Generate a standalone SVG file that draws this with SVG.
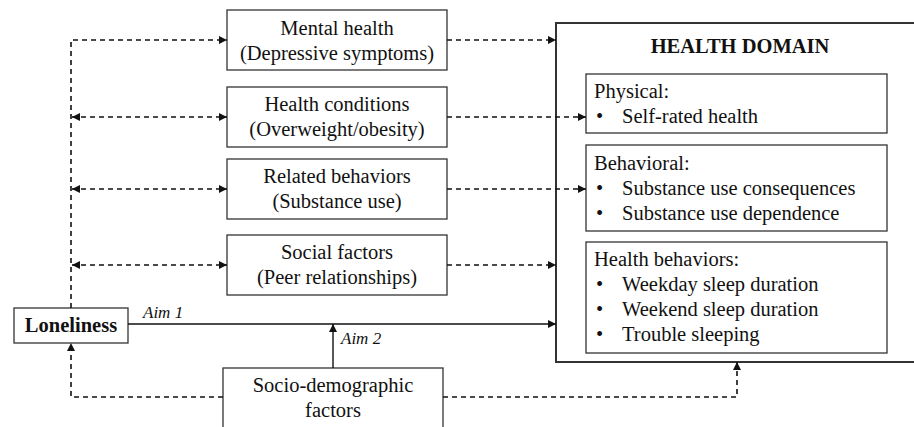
<svg xmlns="http://www.w3.org/2000/svg" width="914" height="427" viewBox="0 0 914 427">
<style>
text{font-family:"Liberation Serif","Times New Roman",serif;font-size:20.5px;fill:#111}
.c{text-anchor:middle}
.b{font-weight:bold}
.i{font-style:italic;font-size:17px}
.box{fill:#fff;stroke:#333;stroke-width:1.3}
.big{fill:#fff;stroke:#333;stroke-width:2}
.d{fill:none;stroke:#111;stroke-width:1.6;stroke-dasharray:5 4}
.s{fill:none;stroke:#111;stroke-width:1.4}
</style>
<defs>
<marker id="ah" viewBox="0 0 10 10" refX="10" refY="5" markerWidth="8" markerHeight="8" markerUnits="userSpaceOnUse" orient="auto-start-reverse">
<path d="M0,0 L10,5 L0,10 z" fill="#111"/>
</marker>
</defs>
<g id="mental">
<rect class="box" x="227" y="10" width="220" height="60"/>
<text class="c" x="337" y="35">Mental health</text>
<text class="c" x="337" y="60">(Depressive symptoms)</text>
</g>
<g id="conditions">
<rect class="box" x="227" y="87" width="220" height="60"/>
<text class="c" x="337" y="111">Health conditions</text>
<text class="c" x="337" y="136">(Overweight/obesity)</text>
</g>
<g id="related">
<rect class="box" x="227" y="159" width="220" height="60"/>
<text class="c" x="337" y="183">Related behaviors</text>
<text class="c" x="337" y="208">(Substance use)</text>
</g>
<g id="social">
<rect class="box" x="227" y="235" width="220" height="60"/>
<text class="c" x="337" y="259">Social factors</text>
<text class="c" x="337" y="284">(Peer relationships)</text>
</g>
<g id="loneliness">
<rect class="box" x="14" y="308" width="114" height="35"/>
<text class="c b" x="71" y="332">Loneliness</text>
</g>
<g id="sociodemo">
<rect class="box" x="223" y="368" width="220" height="70"/>
<text class="c" x="333" y="392">Socio-demographic</text>
<text class="c" x="333" y="417">factors</text>
</g>
<g id="health-domain">
<rect class="big" x="556" y="23" width="370" height="339"/>
<text class="c b" x="740" y="53">HEALTH DOMAIN</text>
<g id="physical">
<rect class="box" x="586" y="74" width="301" height="59"/>
<text x="594" y="98">Physical:</text>
<text x="596" y="123">•</text>
<text x="622" y="123">Self-rated health</text>
</g>
<g id="behavioral">
<rect class="box" x="586" y="145" width="301" height="86"/>
<text x="594" y="170">Behavioral:</text>
<text x="596" y="195">•</text>
<text x="622" y="195">Substance use consequences</text>
<text x="596" y="220">•</text>
<text x="622" y="220">Substance use dependence</text>
</g>
<g id="health-behaviors">
<rect class="box" x="586" y="242" width="301" height="111"/>
<text x="594" y="266">Health behaviors:</text>
<text x="596" y="291">•</text>
<text x="622" y="291">Weekday sleep duration</text>
<text x="596" y="316">•</text>
<text x="622" y="316">Weekend sleep duration</text>
<text x="596" y="341">•</text>
<text x="622" y="341">Trouble sleeping</text>
</g>
</g>
<g id="connectors">
<path class="d" d="M71,308 V40 H227" marker-end="url(#ah)"/>
<path class="d" d="M72,117 H227" marker-start="url(#ah)" marker-end="url(#ah)"/>
<path class="d" d="M72,189 H227" marker-start="url(#ah)" marker-end="url(#ah)"/>
<path class="d" d="M72,265 H227" marker-start="url(#ah)" marker-end="url(#ah)"/>
<path class="d" d="M447,40 H556" marker-end="url(#ah)"/>
<path class="d" d="M447,117 H586" marker-end="url(#ah)"/>
<path class="d" d="M447,189 H586" marker-end="url(#ah)"/>
<path class="d" d="M447,265 H556" marker-end="url(#ah)"/>
<path class="s" d="M128,324 H556" marker-end="url(#ah)"/>
<path class="s" d="M333,368 V324" marker-end="url(#ah)"/>
<path class="d" d="M223,397 H71 V343" marker-end="url(#ah)"/>
<path class="d" d="M443,397 H737 V362" marker-end="url(#ah)"/>
<text class="i" x="143" y="318">Aim 1</text>
<text class="i" x="341" y="344">Aim 2</text>
</g>
</svg>
